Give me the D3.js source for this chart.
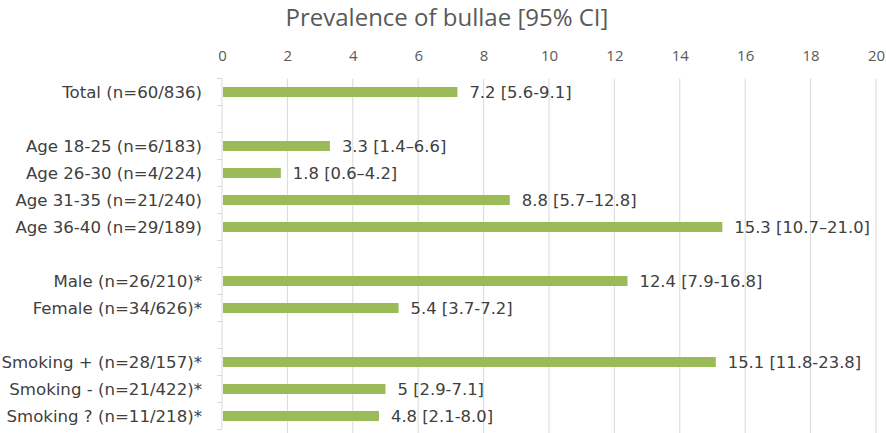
<!DOCTYPE html>
<html>
<head>
<meta charset="utf-8">
<script src="https://cdn.jsdelivr.net/npm/d3@7"></script>
<style>
  body { margin: 0; background: #fff; }
  text { font-family: "DejaVu Sans", sans-serif; }
</style>
</head>
<body>
<div id="chart"></div>
<script>
// rows top to bottom; empty label = spacer row
const categories = ['Total (n=60/836)', '', 'Age 18-25 (n=6/183)', 'Age 26-30 (n=4/224)', 'Age 31-35 (n=21/240)', 'Age 36-40 (n=29/189)', '', 'Male (n=26/210)*', 'Female (n=34/626)*', '', 'Smoking + (n=28/157)*', 'Smoking - (n=21/422)*', 'Smoking ? (n=11/218)*'];
const values = [7.2, null, 3.3, 1.8, 8.8, 15.3, null, 12.4, 5.4, null, 15.1, 5, 4.8];
const valueLabels = ['7.2 [5.6-9.1]', '', '3.3 [1.4\u20136.6]', '1.8 [0.6\u20134.2]', '8.8 [5.7\u201312.8]', '15.3 [10.7\u201321.0]', '', '12.4 [7.9-16.8]', '5.4 [3.7-7.2]', '', '15.1 [11.8-23.8]', '5 [2.9-7.1]', '4.8 [2.1-8.0]'];
const xTicks = [0, 2, 4, 6, 8, 10, 12, 14, 16, 18, 20];

const width = 886, height = 433;
const margin = {top: 78.5, right: 10, bottom: 3.5, left: 222};

const rows = categories.map((c, i) => ({id: i, label: c, value: values[i], text: valueLabels[i]}));

const svg = d3.select('#chart').append('svg')
  .attr('width', width).attr('height', height);

const x = d3.scaleLinear().domain([0, 20]).range([margin.left, width - margin.right]);
const y = d3.scaleBand().domain(rows.map(d => d.id))
  .range([margin.top, height - margin.bottom])
  .paddingInner(0.63).paddingOuter(0.315);

// gridlines
svg.append('g').selectAll('line')
  .data(xTicks.slice(1))
  .join('line')
  .attr('x1', d => x(d)).attr('x2', d => x(d))
  .attr('y1', margin.top).attr('y2', height)
  .attr('stroke', '#d9d9d9').attr('stroke-width', 1);

// top axis labels
const xAxis = d3.axisTop(x).tickValues(xTicks).tickSize(0).tickPadding(0);
const xAxisG = svg.append('g').attr('transform', 'translate(0,61)').call(xAxis);
xAxisG.select('.domain').remove();
xAxisG.selectAll('text')
  .attr('font-size', 15).attr('fill', '#595959')
  .style('font-family', '"Open Sans", sans-serif');

// left axis line with ticks between categories
const step = y.step();
const bounds = d3.range(rows.length + 1).map(i => y.range()[0] + i * step);
svg.append('line')
  .attr('x1', margin.left).attr('x2', margin.left)
  .attr('y1', margin.top).attr('y2', height - margin.bottom)
  .attr('stroke', '#d9d9d9');
svg.append('g').selectAll('line')
  .data(bounds)
  .join('line')
  .attr('x1', margin.left - 5).attr('x2', margin.left)
  .attr('y1', d => d).attr('y2', d => d)
  .attr('stroke', '#d9d9d9');

// category labels
svg.append('g').selectAll('text')
  .data(rows.filter(d => d.label))
  .join('text')
  .attr('x', margin.left - 20)
  .attr('y', d => y(d.id) + y.bandwidth() / 2)
  .attr('dy', '0.36em')
  .attr('text-anchor', 'end')
  .attr('font-size', 16.6)
  .attr('fill', '#404040')
  .text(d => d.label);

// bars
svg.append('g').selectAll('rect')
  .data(rows.filter(d => d.value != null))
  .join('rect')
  .attr('x', x(0) + 1)
  .attr('y', d => y(d.id))
  .attr('width', d => x(d.value) - x(0) - 1)
  .attr('height', y.bandwidth())
  .attr('fill', '#9bbb59');

// value labels
svg.append('g').selectAll('text')
  .data(rows.filter(d => d.value != null))
  .join('text')
  .attr('x', d => x(d.value) + 12)
  .attr('y', d => y(d.id) + y.bandwidth() / 2)
  .attr('dy', '0.36em')
  .attr('font-size', 16.4)
  .attr('fill', '#404040')
  .text(d => d.text);

// title
svg.append('text')
  .attr('x', 447).attr('y', 26)
  .attr('text-anchor', 'middle')
  .attr('font-size', 24)
  .attr('fill', '#595959')
  .style('font-family', '"Open Sans", sans-serif')
  .text('Prevalence of bullae [95% CI]');
</script>
</body>
</html>
